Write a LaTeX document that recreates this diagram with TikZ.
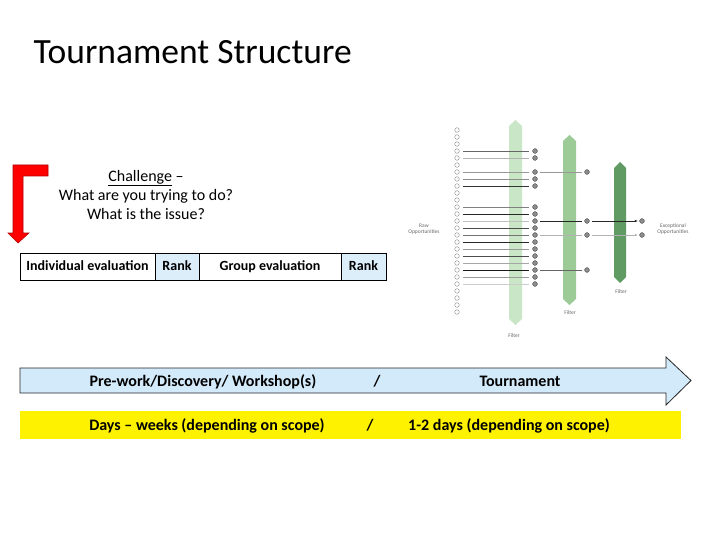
\documentclass[tikz,border=0pt]{standalone}
\usepackage{fontspec}
\setmainfont{Carlito}
\usetikzlibrary{positioning, arrows.meta}

\begin{document}
\begin{tikzpicture}[x=1pt, y=-1pt,
  cell/.style={draw, line width=0.8pt, minimum height=27, inner sep=0pt, outer sep=0pt,
    text height=8.8pt, text depth=0pt, font=\fontsize{14}{16}\selectfont\bfseries},
  rankcell/.style={cell, fill=rankblue},
  rawdot/.style={circle, draw=black!45, fill=white, line width=0.4pt, minimum size=4.6, inner sep=0pt},
  keptdot/.style={circle, draw=black!70, fill=black!45, line width=0.4pt, minimum size=4.8, inner sep=0pt},
  tinylabel/.style={font=\fontsize{5.5}{6.5}\selectfont, text=black!60, align=center},
  bandtext/.style={inner sep=0pt, text height=10pt, text depth=0pt, font=\fontsize{16}{18}\selectfont\bfseries}]

  \definecolor{rankblue}{HTML}{DDEEFB}
  \definecolor{arrowblue}{HTML}{D3EAFA}
  \definecolor{filterA}{HTML}{C9E7C6}
  \definecolor{filterB}{HTML}{9DCB98}
  \definecolor{filterC}{HTML}{5F9B62}
  \definecolor{darkred}{HTML}{B00000}

  \useasboundingbox (0,0) rectangle (720,540);

  % Title
  \node[anchor=base west, font=\fontsize{35.5}{40}\selectfont] (title) at (30,64) {Tournament Structure};

  % Bent red arrow
  \filldraw[fill=red, draw=darkred, line width=0.6pt]
  (13,165) -- (48,165) -- (48,176) -- (23,176) -- (23,233) -- (29,233)
  -- (18,243) -- (8,233) -- (13,233) -- cycle;

  % Challenge question
  \node[font=\fontsize{16}{19}\selectfont, align=center] (chal) at (146,195)
  {\underline{Challenge} --\\What are you trying to do?\\What is the issue?};

  % Evaluation row
  \node[cell, minimum width=135] (ind) at (87.5,266.5) {Individual evaluation};
  \node[rankcell, minimum width=44, right=0pt of ind] (rank1) {Rank};
  \node[cell, minimum width=142, right=0pt of rank1] (grp) {Group evaluation};
  \node[rankcell, minimum width=45, right=0pt of grp] (rank2) {Rank};

  % Filters
  \fill[filterA] (509,126) -- (515.5,120) -- (522,126) -- (522,319) -- (515.5,325) -- (509,319) -- cycle;
  \fill[filterB] (563,141) -- (569.5,135) -- (576,141) -- (576,299) -- (569.5,305) -- (563,299) -- cycle;
  \fill[filterC] (614,168) -- (620,162) -- (626,168) -- (626,277) -- (620,283) -- (614,277) -- cycle;
  \node[tinylabel] (filt1) at (514,336) {Filter};
  \node[tinylabel] (filt2) at (570,313) {Filter};
  \node[tinylabel] (filt3) at (621,292) {Filter};

  % Raw opportunities
  \foreach \k in {0,...,26}
    \node[rawdot] (r\k) at (457,130+7*\k) {};
  \node[tinylabel] (raw) at (424,229) {Raw\\Opportunities};

  % First cut
  \foreach \k/\shd in {3/60,4/30,6/40,7/45,8/80,11/50,12/85,13/25,14/70,15/55,16/85,17/40,18/70,19/35,20/90,21/40,22/20} {
    \node[keptdot] (f\k) at (535,130+7*\k) {};
    \draw[black!\shd, line width=0.6pt] ([xshift=3pt]r\k.east) -- ([xshift=-3pt]f\k.west);
  }

  % Second cut
  \foreach \k/\shd in {6/40,13/85,15/30,20/60} {
    \node[keptdot] (s\k) at (587,130+7*\k) {};
    \draw[black!\shd, line width=0.6pt] ([xshift=2pt]f\k.east) -- ([xshift=-2pt]s\k.west);
  }

  % Last cut
  \foreach \k/\shd in {13/85,15/30} {
    \node[keptdot] (e\k) at (642,130+7*\k) {};
    \draw[black!\shd, line width=0.6pt, -{Latex[length=3pt,width=2.5pt]}]
    ([xshift=2pt]s\k.east) -- ([xshift=-1.5pt]e\k.west);
  }
  \node[tinylabel] (exc) at (673,229) {Exceptional\\Opportunities};

  % Timeline arrow
  \filldraw[fill=arrowblue, draw=black!85, line width=0.8pt]
  (20,368) -- (666,368) -- (666,357) -- (691,380.5) -- (666,405) -- (666,393) -- (20,393) -- cycle;
  \node[bandtext] (prework) at (203,381) {Pre-work/Discovery/ Workshop(s)};
  \node[bandtext] (slashA) at (377,381) {/};
  \node[bandtext] (tourn) at (520,381) {Tournament};

  % Duration band
  \fill[yellow] (20,411) rectangle (681,439);
  \node[bandtext] (days) at (207,425) {Days -- weeks (depending on scope)};
  \node[bandtext] (slashB) at (370,425) {/};
  \node[bandtext] (short) at (509,425) {1-2 days (depending on scope)};

\end{tikzpicture}
\end{document}
